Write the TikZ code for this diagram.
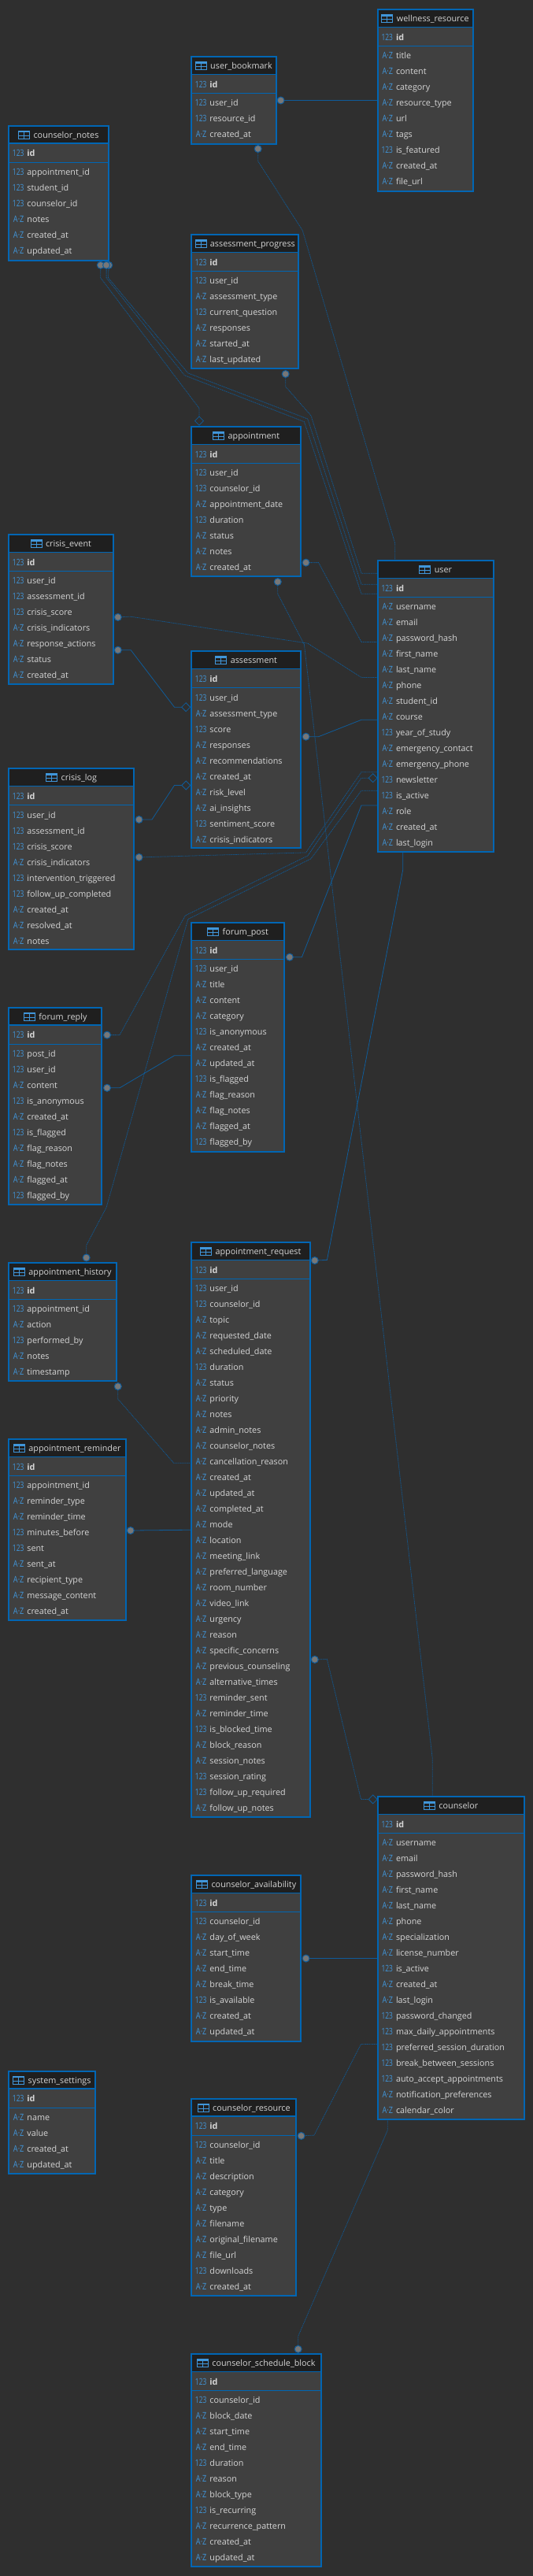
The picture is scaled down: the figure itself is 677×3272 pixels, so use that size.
\documentclass[tikz,border=0pt]{standalone}
\usepackage{fontspec}
\setmainfont{Open Sans}
\usetikzlibrary{shapes.geometric,backgrounds}
\definecolor{pagebg}{HTML}{2F2F2F}
\definecolor{tblbg}{HTML}{404040}
\definecolor{hdrbg}{HTML}{1F1F1F}
\definecolor{edge}{HTML}{0066B4}
\definecolor{rel}{HTML}{0F5C9A}
\definecolor{typeblue}{HTML}{4096DA}
\definecolor{txt}{HTML}{D6D6D6}
\definecolor{dotfill}{HTML}{777777}
\newcommand{\fsz}{\fontsize{10.8}{12}\selectfont}
\newcommand{\gsz}{\fontsize{11.4}{12}\selectfont}
\tikzset{
  x=1pt,y=-1pt,
  tbl/.style={draw=edge,fill=tblbg,line width=2pt,inner sep=0pt,outer sep=0pt},
  sepline/.style={draw=edge,line width=1.1pt},
  label/.style={inner sep=0pt,outer sep=0pt,text height=8pt,text depth=0pt,text=txt,font=\fsz},
  fname/.style={label,anchor=west},
  ftype/.style={label,anchor=east,text=typeblue,font=\gsz},
  ttl/.style={label,anchor=center},
  tblicon/.style={draw=typeblue,line width=.9pt},
  solidrel/.style={draw=rel,line width=.8pt},
  dotrel/.style={draw=rel,line width=.8pt,dash pattern=on 1pt off .8pt},
  endc/.style={circle,draw=rel,fill=dotfill,line width=1pt,minimum size=9pt,inner sep=0pt,outer sep=0pt},
  endd/.style={diamond,draw=rel,line width=.8pt,minimum width=11pt,minimum height=11pt,inner sep=0pt,outer sep=0pt,aspect=1},
}
\newcommand{\typeglyph}[1]{\if n#1\scalebox{.74}[1]{123}\else\scalebox{.8}[1]{A·Z}\fi}
% name, x0, top, x1, bottom, field list
\newcommand{\erdtable}[6]{%
  \node[tbl,minimum width=#4-#2-2,minimum height=#5-#3-2] (#1) at ({(#2+#4)/2},{(#3+#5)/2}) {};
  \fill[hdrbg] (#2+2,#3+2) rectangle (#4-2,#3+23);
  \draw[sepline] (#2+1,#3+23.4) -- (#4-1,#3+23.4);
  \draw[sepline] (#2+1,#3+47.6) -- (#4-1,#3+47.6);
  \node[ttl] (#1-title) at ({(#2+#4)/2+9.5},#3+12.4) {#1};
  \path (#1-title.west) ++(-19,-5) coordinate (#1-icon);
  \draw[tblicon] (#1-icon) rectangle ++(14,10);
  \fill[typeblue] (#1-icon) rectangle ++(14,2.4);
  \draw[tblicon] (#1-icon) ++(0,6) -- ++(14,0);
  \draw[tblicon] (#1-icon) ++(7,0) -- ++(0,10);
  \node[ftype] (#1-idt) at (#2+20,#3+36.3) {\typeglyph{n}};
  \node[fname,font=\fsz\bfseries] (#1-id) at (#2+24,#3+36.3) {id};
  \foreach \ftyp/\fnam [count=\fidx] in {#6} {
    \node[ftype] (#1-t\fidx) at (#2+20,{#3+60+20*(\fidx-1)}) {\typeglyph{\ftyp}};
    \node[fname] (#1-f\fidx) at (#2+24,{#3+60+20*(\fidx-1)}) {\fnam};
  }
}
\catcode`\_=12
\begin{document}
\begin{tikzpicture}
\useasboundingbox (0,0) rectangle (677,3272);

\erdtable{wellness_resource}{479}{10.7}{601.5}{243.6}{a/title,a/content,a/category,a/resource_type,a/url,a/tags,n/is_featured,a/created_at,a/file_url}
\erdtable{user_bookmark}{242.4}{70.7}{351.6}{183.6}{n/user_id,n/resource_id,a/created_at}
\erdtable{counselor_notes}{10.4}{158.6}{138.6}{331.8}{n/appointment_id,n/student_id,n/counselor_id,a/notes,a/created_at,a/updated_at}
\erdtable{assessment_progress}{242.4}{296.8}{380.4}{469}{n/user_id,a/assessment_type,n/current_question,a/responses,a/started_at,a/last_updated}
\erdtable{appointment}{242.4}{540.7}{383.4}{733.2}{n/user_id,n/counselor_id,a/appointment_date,n/duration,a/status,a/notes,a/created_at}
\erdtable{crisis_event}{10.4}{677.9}{144.6}{870.4}{n/user_id,n/assessment_id,n/crisis_score,a/crisis_indicators,a/response_actions,a/status,a/created_at}
\erdtable{assessment}{242.4}{826}{383.4}{1078}{n/user_id,a/assessment_type,n/score,a/responses,a/recommendations,a/created_at,a/risk_level,a/ai_insights,n/sentiment_score,a/crisis_indicators}
\erdtable{user}{479}{710.7}{627.8}{1083.2}{a/username,a/email,a/password_hash,a/first_name,a/last_name,a/phone,a/student_id,a/course,n/year_of_study,a/emergency_contact,a/emergency_phone,n/newsletter,n/is_active,a/role,a/created_at,a/last_login}
\erdtable{crisis_log}{10.4}{975}{171.4}{1207}{n/user_id,n/assessment_id,n/crisis_score,a/crisis_indicators,n/intervention_triggered,n/follow_up_completed,a/created_at,a/resolved_at,a/notes}
\erdtable{forum_post}{242.4}{1170.7}{362.3}{1463.6}{n/user_id,a/title,a/content,a/category,n/is_anonymous,a/created_at,a/updated_at,n/is_flagged,a/flag_reason,a/flag_notes,a/flagged_at,n/flagged_by}
\erdtable{forum_reply}{10.4}{1278.6}{130.4}{1531.4}{n/post_id,n/user_id,a/content,n/is_anonymous,a/created_at,n/is_flagged,a/flag_reason,a/flag_notes,a/flagged_at,n/flagged_by}
\erdtable{appointment_history}{10.4}{1602.9}{148.5}{1755.4}{n/appointment_id,a/action,n/performed_by,a/notes,a/timestamp}
\erdtable{appointment_request}{242.4}{1576.8}{394.6}{2309}{n/user_id,n/counselor_id,a/topic,a/requested_date,a/scheduled_date,n/duration,a/status,a/priority,a/notes,a/admin_notes,a/counselor_notes,a/cancellation_reason,a/created_at,a/updated_at,a/completed_at,a/mode,a/location,a/meeting_link,a/preferred_language,a/room_number,a/video_link,a/urgency,a/reason,a/specific_concerns,a/previous_counseling,a/alternative_times,n/reminder_sent,a/reminder_time,n/is_blocked_time,a/block_reason,a/session_notes,n/session_rating,n/follow_up_required,a/follow_up_notes}
\erdtable{appointment_reminder}{10.4}{1826.8}{160.6}{2059.3}{n/appointment_id,a/reminder_type,a/reminder_time,n/minutes_before,n/sent,a/sent_at,a/recipient_type,a/message_content,a/created_at}
\erdtable{counselor}{479}{2280.7}{666.7}{2693.2}{a/username,a/email,a/password_hash,a/first_name,a/last_name,a/phone,a/specialization,a/license_number,n/is_active,a/created_at,a/last_login,n/password_changed,n/max_daily_appointments,n/preferred_session_duration,n/break_between_sessions,n/auto_accept_appointments,a/notification_preferences,a/calendar_color}
\erdtable{counselor_availability}{242.4}{2380.7}{383.4}{2593.6}{n/counselor_id,a/day_of_week,a/start_time,a/end_time,a/break_time,n/is_available,a/created_at,a/updated_at}
\erdtable{system_settings}{10.4}{2629.6}{121.8}{2762.4}{a/name,a/value,a/created_at,a/updated_at}
\erdtable{counselor_resource}{242.4}{2664.6}{377.4}{2917.4}{n/counselor_id,a/title,a/description,a/category,a/type,a/filename,a/original_filename,a/file_url,n/downloads,a/created_at}
\erdtable{counselor_schedule_block}{242.4}{2988.8}{408.5}{3261}{n/counselor_id,a/block_date,a/start_time,a/end_time,n/duration,a/reason,a/block_type,n/is_recurring,a/recurrence_pattern,a/created_at,a/updated_at}

% relationship end markers
\node[endc] (bmR) at (356.6,127.5) {};
\node[endc] (bmB) at (327.7,189) {};
\node[endc] (cnA) at (127.8,336.8) {};
\node[endc] (cnC) at (138.2,336.8) {};
\node[endc] (cnB) at (135.1,336.8) {};
\node[endc] (apC) at (362.7,475) {};
\node[endc] (aptR) at (388.6,714.6) {};
\node[endc] (aptB) at (352.8,739) {};
\node[endc] (ceA) at (149.8,783.9) {};
\node[endc] (ceB) at (149.8,825.7) {};
\node[endc] (clA) at (176.6,1041) {};
\node[endc] (asR) at (388.6,935.7) {};
\node[endc] (clB) at (176.6,1088.9) {};
\node[endc] (frA) at (136,1314.6) {};
\node[endc] (ahT) at (109.7,1597.5) {};
\node[endc] (fpR) at (367.9,1215.7) {};
\node[endc] (frB) at (136,1381.8) {};
\node[endc] (arA) at (399.8,1601) {};
\node[endc] (ahB) at (149.8,1761) {};
\node[endc] (rmR) at (165.8,1944) {};
\node[endc] (arB) at (399.8,2107.9) {};
\node[endc] (caR) at (388.6,2487.5) {};
\node[endc] (crR) at (382.6,2712.9) {};
\node[endc] (sbT) at (378.7,2983.8) {};
\node[endd] (dApt) at (253,534.6) {};
\node[endd] (dAs1) at (236.2,898.2) {};
\node[endd] (dAs2) at (236.2,997.5) {};
\node[endd] (dUs) at (473.7,988.2) {};
\node[endd] (dCo) at (473.7,2285.4) {};

\begin{pgfonlayer}{background}
\fill[pagebg] (0,0) rectangle (677,3272);
\draw[solidrel] (bmR) -- (wellness_resource.west |- 0,127.5);
\draw[dotrel] (bmB) -- (327.7,204.6) -- (384.3,292.9) -- (501.7,690) -- (user.north -| 501.7,0);
\draw[dotrel] (cnA) -- (127.8,352.9) -- (253,518.6) -- (dApt);
\draw[dotrel] (cnB) -- (135.1,352.9) -- (234.5,476.8) -- (386.4,535.7) -- (459,754.3) -- (user.west |- 0,754.3);
\draw[dotrel] (cnC) -- (137.5,352.9) -- (238.8,473.9) -- (390.8,532.1) -- (459,742.3) -- (user.west |- 0,742.3);
\draw[dotrel] (apC) -- (362.7,491) -- (395,527.9) -- (459,728.2) -- (user.west |- 0,728.2);
\draw[dotrel] (aptR) -- (404.6,714.6) -- (459,815.4) -- (user.west |- 0,815.4);
\draw[dotrel] (aptB) -- (352.8,754.3) -- (386.4,818.6) -- (549.2,2233) -- (counselor.north -| 549.2,0);
\draw[dotrel] (ceA) -- (166.2,783.2) -- (390.8,817.1) -- (459,860.4) -- (user.west |- 0,860.4);
\draw[solidrel] (ceB) -- (166.2,825.7) -- (221.5,898.2) -- (dAs1);
\draw[solidrel] (clA) -- (193,1041) -- (221.5,997.5) -- (dAs2);
\draw[solidrel] (asR) -- (404.6,935.7) -- (459,914.3) -- (user.west |- 0,914.3);
\draw[dotrel] (clB) -- (388.6,1082.9) -- (459,980.7) -- (user.west |- 0,980.7);
\draw[dotrel] (frA) -- (152,1314.6) -- (235.3,1162.9) -- (390.8,1087) -- (459,988.2) -- (dUs);
\draw[dotrel] (ahT) -- (109.7,1581.8) -- (135.1,1533.6) -- (238.8,1167.5) -- (395,1090.7) -- (459,1004.3) -- (user.west |- 0,1004.3);
\draw[solidrel] (fpR) -- (383.4,1215.7) -- (459,1022.9) -- (user.west |- 0,1022.9);
\draw[solidrel] (frB) -- (152,1381.8) -- (221.5,1340.7) -- (forum_post.west |- 0,1340.7);
\draw[solidrel] (arA) -- (415.4,1600.4) -- (511.7,1105) -- (user.south -| 511.7,0);
\draw[dotrel] (ahB) -- (149.8,1777) -- (220.6,1858.2) -- (appointment_request.west |- 0,1858.2);
\draw[solidrel] (rmR) -- (appointment_request.west |- 0,1943.2);
\draw[dotrel] (arB) -- (415.4,2107.5) -- (458.5,2285.4) -- (dCo);
\draw[solidrel] (caR) -- (counselor.west |- 0,2487.5);
\draw[dotrel] (crR) -- (399,2712.1) -- (458.5,2596.4) -- (counselor.west |- 0,2596.4);
\draw[dotrel] (sbT) -- (378.7,2967.4) -- (492.2,2706) -- (counselor.south -| 492.2,0);
\end{pgfonlayer}
\end{tikzpicture}
\end{document}
